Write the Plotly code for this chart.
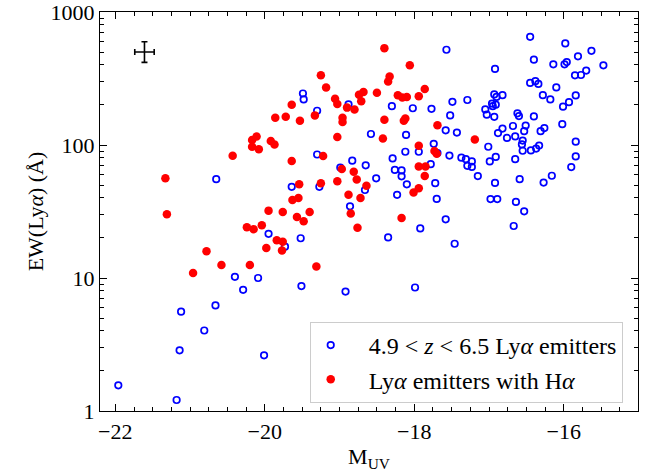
import plotly.graph_objects as go

# ---- data ----
lae_muv = [-20.65, -19.64, -17.57, -19.49, -19.48, -18.88, -19.30, -18.30, -18.02, -17.77,
           -17.49, -17.29, -17.52, -17.58, -17.43, -18.58, -18.11, -17.74, -17.69, -17.94,
           -18.12, -19.30, -18.29, -17.53, -17.37, -17.31, -17.23, -17.29, -17.23, -18.83,
           -18.65, -18.99, -18.26, -18.17, -18.17, -17.78, -17.15, -18.51, -18.10, -17.72,
           -19.27, -18.66, -18.23, -17.70, -16.45, -15.98, -15.63, -15.81, -16.40, -15.47,
           -16.14, -15.99, -15.96, -16.92, -15.70, -15.77, -15.85, -16.45, -16.38, -16.34,
           -16.10, -16.28, -16.18, -15.84, -15.93, -16.01, -16.93, -16.82, -16.90, -16.96,
           -16.91, -16.95, -17.05, -17.03, -16.93, -16.62, -16.60, -16.40, -16.02, -16.68,
           -16.51, -16.82, -16.88, -16.53, -16.76, -16.65, -16.26, -16.31, -16.55, -16.56,
           -16.55, -16.44, -16.37, -16.33, -15.84, -17.01, -15.84, -16.91, -16.99, -16.65,
           -15.90, -16.16, -16.59, -16.92, -16.27, -16.98, -16.89, -16.64, -16.53, -16.67,
           -18.86, -19.52, -19.73, -18.35, -17.92, -17.58, -17.46, -19.51, -18.92, -17.99,
           -19.95, -20.40, -20.09, -20.29, -20.66, -21.12, -20.81, -21.14, -20.01, -21.96,
           -21.18]
lae_ew = [55.3, 48.5, 520, 244, 220, 202, 181, 196, 189, 187,
          211, 218, 167, 129, 124, 121, 119, 102, 87, 89,
          89, 84.8, 79.3, 83.3, 80.3, 78.2, 75.3, 69.7, 68.4, 76.2,
          70.3, 67.6, 65, 64.4, 58.1, 71.8, 58.4, 56.2, 50.6, 51.6,
          48.5, 45.9, 42.2, 39.3, 651, 580, 511, 464, 438, 397,
          404, 404, 420, 373, 363, 336, 334, 293, 302, 288,
          271, 237, 220, 236, 210, 194, 240, 237, 230, 205,
          201, 196, 185, 169, 163, 173, 165, 164, 143.5, 139,
          140, 133, 123, 127, 113, 116, 134, 127, 108, 101,
          90.5, 91, 94, 99, 106, 97, 82, 81.3, 75.3, 78.2,
          68.2, 58.7, 55.3, 51.9, 52.2, 39.2, 39.2, 37.3, 31.7, 24.6,
          34.6, 19.9, 17.2, 20.2, 23.6, 27.6, 18.1, 8.69, 7.91, 8.48,
          21.5, 10.2, 10.0, 8.15, 6.22, 5.58, 4.03, 2.86, 2.62, 1.56,
          1.21]

ha_muv = [-21.33, -20.43, -20.17, -20.11, -20.17, -20.08, -19.92, -19.87, -19.86, -19.72,
          -19.64, -19.64, -19.63, -18.40, -18.06, -19.25, -18.33, -18.35, -19.18, -18.68,
          -18.74, -18.50, -18.22, -18.16, -18.10, -17.86, -17.94, -19.06, -19.03, -18.71,
          -18.90, -18.80, -19.53, -19.33, -18.96, -18.96, -18.40, -18.12, -18.14, -17.69,
          -19.03, -18.42, -17.19, -17.94, -17.73, -17.70, -19.22, -17.94, -17.85, -17.86,
          -18.97, -18.81, -18.77, -19.03, -19.25, -19.54, -18.64, -17.94, -18.01, -18.88,
          -18.72, -19.55, -19.76, -19.57, -19.40, -19.48, -18.85, -18.76, -18.17, -19.76,
          -19.77, -19.31, -21.31, -20.78, -20.58, -20.96, -20.20, -20.24, -20.15, -20.04,
          -19.95, -19.84, -19.98]
ha_ew = [56.2, 83, 109, 116, 97, 93, 107, 101, 160, 163,
         201, 75.8, 38.6, 535, 397, 334, 327, 300, 271, 250,
         239, 247, 237, 228, 230, 264, 233, 223, 203, 213,
         191, 185, 152, 167, 160, 149, 155, 158, 152, 141,
         115, 112, 110, 98.6, 90, 86, 82.6, 68.8, 68.8, 58.4,
         66, 63, 55, 53.4, 51.6, 50.7, 49.3, 47.3, 44, 42.2,
         39.9, 39.9, 31.4, 28.8, 31.3, 26.7, 30.5, 23.9, 28.3, 18.7,
         16.1, 12.2, 30.1, 15.9, 12.5, 10.9, 12.5, 24.1, 23.3, 24.9,
         32.1, 19.2, 16.8]

# typical uncertainty
err_muv = [-21.61]
err_ew = [500]
err_dx = [0.13]
err_dy_plus = [98]
err_dy_minus = [82]

x_ticks = [-22, -20, -18, -16]
x_ticktext = ["\u221222", "\u221220", "\u221218", "\u221216"]

FONT = "Liberation Serif"
FS = 22
LEG_FS = 24

fig = go.Figure()
fig.add_trace(go.Scatter(
    x=lae_muv, y=lae_ew, mode="markers",
    name="&nbsp;&nbsp;&nbsp;4.9 &lt; <i>z</i> &lt; 6.5 Ly<i>α</i> emitters",
    marker=dict(symbol="circle-open", size=6.5, color="#0000ff",
                line=dict(width=1.7, color="#0000ff")),
))
fig.add_trace(go.Scatter(
    x=ha_muv, y=ha_ew, mode="markers",
    name="&nbsp;&nbsp;&nbsp;Ly<i>α</i> emitters with H<i>α</i>",
    marker=dict(symbol="circle", size=8.5, color="#ff0000",
                line=dict(width=0)),
))
fig.add_trace(go.Scatter(
    x=err_muv, y=err_ew, mode="markers", showlegend=False,
    marker=dict(size=0.1, color="black", opacity=0),
    error_x=dict(type="data", array=err_dx, color="black", thickness=1.6, width=3),
    error_y=dict(type="data", array=err_dy_plus, arrayminus=err_dy_minus,
                 symmetric=False, color="black", thickness=1.6, width=3),
))

axis_common = dict(
    showline=True, linecolor="black", linewidth=1.3, mirror="allticks",
    ticks="inside", ticklen=7, tickwidth=1.2, tickcolor="black",
    showgrid=False, zeroline=False, ticklabeloverflow="allow",
    tickfont=dict(family=FONT, size=FS, color="black"),
)

fig.update_xaxes(
    **axis_common,
    range=[-22.205, -15.007],
    tickvals=x_ticks, ticktext=x_ticktext,
    minor=dict(ticks="inside", ticklen=4, tickwidth=1, tickcolor="black",
               dtick=0.25, tick0=-22, showgrid=False),
    title=dict(text="M<sub>UV</sub>", font=dict(family=FONT, size=FS, color="black"),
               standoff=6),
)
fig.update_yaxes(
    **axis_common,
    type="log", range=[0, 3],
    tickmode="linear", tick0=0, dtick=1, tickformat="d",
    minor=dict(ticks="inside", ticklen=4, tickwidth=1, tickcolor="black",
               dtick="D1", showgrid=False),
    automargin=True,
    title=dict(text="EW(Ly<i>α</i>) (Å)", font=dict(family=FONT, size=FS, color="black"),
               standoff=0),
)

fig.update_layout(
    width=657, height=472,
    margin=dict(l=100, r=19, t=12, b=61, autoexpand=False),
    paper_bgcolor="white", plot_bgcolor="white",
    font=dict(family=FONT, size=FS, color="black"),
    legend=dict(
        x=0.9716, y=0.02, xanchor="right", yanchor="bottom",
        bgcolor="white", bordercolor="#cccccc", borderwidth=1,
        font=dict(family=FONT, size=LEG_FS, color="black"),
        itemsizing="trace", tracegroupgap=0,
    ),
)

fig.write_html("out.html")
